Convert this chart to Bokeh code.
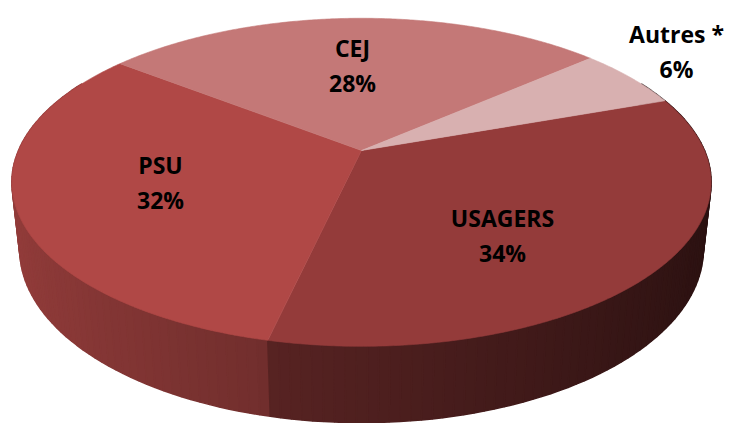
import numpy as np
from bokeh.plotting import figure
from bokeh.models import Range1d
from bokeh.embed import file_html
from bokeh.resources import INLINE
from bokeh.core.properties import value

# ---- data ----
categories = ["USAGERS", "PSU", "CEJ", "Autres *"]
values = [34, 32, 28, 6]
top_colors = ["#943B3A", "#B04846", "#C47877", "#D8B0B0"]

# ---- layout / style ----
W, H = 729, 423
CX, CY = 361.0, 150.0          # screen position of top-face centre
F, D = 1571.0, 4.58            # perspective focal / distance
ELEV = np.radians(27.4)
S, C = np.sin(ELEV), np.cos(ELEV)
THICK = 0.222                  # pie height (radius = 1)
START = -19.6                  # start angle of first slice (deg, clockwise on screen)
label_pos = [(502, 217), (160, 164), (352, 47), (676, 33)]
LINE_GAP = 35
FONT = "Open Sans"
FONT_SIZE = "23px"


def proj(X, Y, Z):
    up = -Y * S + Z * C
    depth = D - (Y * C + Z * S)
    return CX + F * X / depth, CY - F * up / depth


def hex2rgb(h):
    h = h.lstrip("#")
    return tuple(int(h[i:i + 2], 16) for i in (0, 2, 4))


def shade(hexc, k):
    r, g, b = hex2rgb(hexc)
    return "#%02x%02x%02x" % tuple(max(0, min(255, int(round(v * k)))) for v in (r, g, b))


total = float(sum(values))
bounds = [START]
for v in values:
    bounds.append(bounds[-1] + 360.0 * v / total)

p = figure(width=W, height=H, output_backend="svg", toolbar_location=None,
           x_range=Range1d(0, W), y_range=Range1d(H, 0),
           min_border=0)
p.axis.visible = False
p.grid.visible = False
p.outline_line_color = None
p.background_fill_color = "white"
p.border_fill_color = "white"

# ---- side segments ----
side_items = []
for i, v in enumerate(values):
    a0, a1 = bounds[i], bounds[i + 1]
    n = max(4, int((a1 - a0) / 1.5))
    th = np.radians(np.linspace(a0, a1, n + 1))
    for k in range(n):
        t0, t1 = th[k], th[k + 1]
        tm = 0.5 * (t0 + t1)
        if np.sin(tm) < -0.45:
            continue
        pts = [proj(np.cos(t0), np.sin(t0), 0), proj(np.cos(t1), np.sin(t1), 0),
               proj(np.cos(t1), np.sin(t1), -THICK), proj(np.cos(t0), np.sin(t0), -THICK)]
        fac = 0.585 - 0.255 * np.cos(tm)
        if i == 0:
            fac -= 0.05
        col = shade(top_colors[i], fac)
        side_items.append((np.sin(tm), [q[0] for q in pts], [q[1] for q in pts], col))
side_items.sort(key=lambda t: t[0])
p.patches([s[1] for s in side_items], [s[2] for s in side_items],
          fill_color=[s[3] for s in side_items], line_color=[s[3] for s in side_items],
          line_width=1.5)

# ---- top faces ----
txs, tys = [], []
for i, v in enumerate(values):
    a0, a1 = bounds[i], bounds[i + 1]
    th = np.radians(np.linspace(a0, a1, max(8, int(a1 - a0) * 2)))
    x0, y0 = proj(0, 0, 0)
    xs = [x0] + [proj(np.cos(t), np.sin(t), 0)[0] for t in th]
    ys = [y0] + [proj(np.cos(t), np.sin(t), 0)[1] for t in th]
    txs.append(xs)
    tys.append(ys)
p.patches(txs, tys, fill_color=top_colors, line_color=top_colors, line_width=0.6)

# ---- labels ----
for i, cat in enumerate(categories):
    lx, ly = label_pos[i]
    p.text(x=[lx, lx], y=[ly, ly + LINE_GAP], text=[cat, f"{values[i]}%"],
           text_align="center", text_baseline="middle",
           text_font=value(FONT), text_font_style="bold",
           text_font_size=FONT_SIZE, text_color="black")

open("out.html", "w").write(file_html(p, INLINE))
